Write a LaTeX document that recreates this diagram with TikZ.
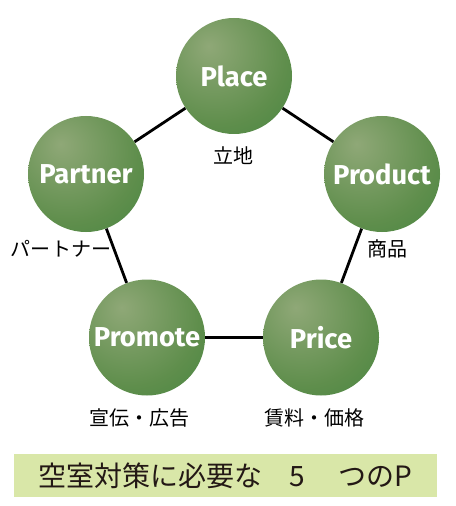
\documentclass[tikz,border=0pt]{standalone}
\usepackage{fontspec}
\setmainfont{Fira Sans}
\newfontfamily\jpfont{Noto Sans CJK JP}
\usetikzlibrary{positioning}

\definecolor{sphereLight}{HTML}{8FA877}
\definecolor{sphereMid}{HTML}{5F8E4C}
\definecolor{sphereDark}{HTML}{2F7D36}
\definecolor{titleFill}{HTML}{D9E7A8}
\definecolor{titleText}{HTML}{231815}
\pgfdeclareradialshading{greensphere}{\pgfpoint{-11bp}{13bp}}{%
    color(0bp)=(sphereLight); color(30bp)=(sphereMid);
    color(64bp)=(sphereDark); color(100bp)=(sphereDark)}

\begin{document}
\begin{tikzpicture}[
        x=0.75pt, y=-0.75pt,
        ball/.style={
            circle,
            shading=greensphere,
            minimum size=87pt,
            inner sep=0pt,
            text=white,
            font=\fontsize{20.5}{24}\selectfont\bfseries
        },
        note/.style={
            font=\jpfont\fontsize{15}{18}\selectfont
        },
        link/.style={
            draw=black,
            line width=2.1pt
        }
    ]

        \useasboundingbox (0,0) rectangle (456,506);

        % the five P
        \node[ball] (place)   at (234,76)    {Place};
        \node[ball] (product) at (382,174)   {Product};
        \node[ball] (price)   at (321,337.5) {Price};
        \node[ball] (promote) at (147,337.5) {Promote};
        \node[ball] (partner) at (86,174)    {Partner};

        \foreach \a/\b in {place/product, product/price, price/promote,
                           promote/partner, partner/place} {
            \draw[link] (\a) -- (\b);
        }

        \node[note] (placeJa)   at (233,156) {立地};
        \node[note] (productJa) at (387,249) {商品};
        \node[note] (priceJa)   at (314,418) {賃料・価格};
        \node[note] (promoteJa) at (139,418) {宣伝・広告};
        \node[note] (partnerJa) at (61,249)  {パートナー};

        \node[fill=titleFill, text=titleText, minimum width=317.25pt,
              minimum height=32.25pt, inner sep=0pt,
              font=\jpfont\fontsize{21}{24}\selectfont] (title) at (225.5,475.5)
            {空室対策に必要な\hspace{0.95em}5\hspace{1.2em}つのP};

    \end{tikzpicture}
\end{document}
